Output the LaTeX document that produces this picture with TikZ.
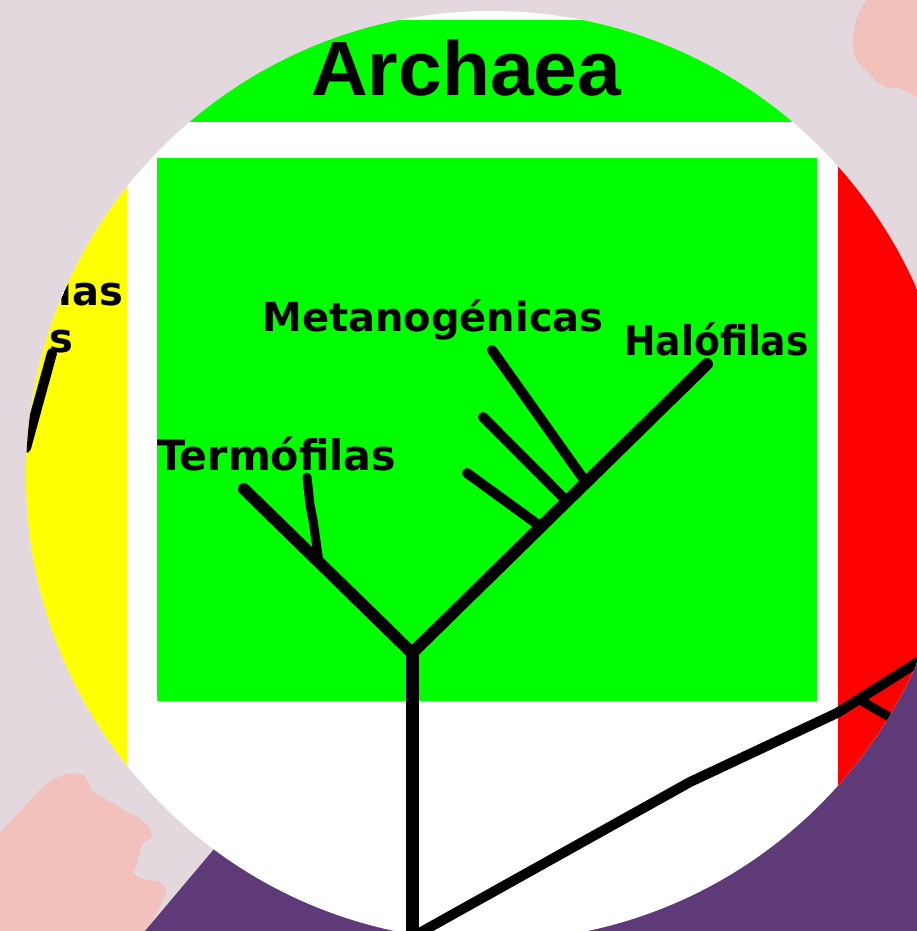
\documentclass[tikz,border=0pt]{standalone}
\usepackage{fontspec}
\setmainfont{Liberation Sans}
\newfontfamily\etiq{DejaVu Sans}
\usetikzlibrary{calc}
\definecolor{fondo}{HTML}{E3D8DD}
\definecolor{morado}{HTML}{5E3A78}
\definecolor{rosa}{HTML}{F2C1BB}
\definecolor{verde}{HTML}{00FF00}
\definecolor{amarillo}{HTML}{FFFF00}
\definecolor{rojo}{HTML}{FF0000}

\begin{document}
\begin{tikzpicture}[x=1pt, y=-1pt,
    rama/.style={black, line width=#1, line cap=round, line join=round},
    rama/.default=12pt,
    etiqueta/.style={font=\etiq\fontsize{#1}{#1}\selectfont\bfseries, inner sep=0pt, anchor=base west}]
\fill[fondo] (0,0) rectangle (917,931);
\useasboundingbox (0,0) rectangle (917,931);

\fill[rosa] (867,0) .. controls (858,8) and (852,30) .. (853,47) .. controls (854,58) and (858,63) .. (863,67)
    -- (877,82) -- (887,88) -- (900,88) -- (907,92) -- (917,97) -- (917,0) -- cycle;
\fill[rosa] (0,833) -- (33,797) .. controls (45,783) and (60,773) .. (75,773) -- (85,776) -- (93,792)
    -- (113,803) -- (127,812) -- (140,818) -- (150,828) -- (152,837) -- (143,843) -- (140,850)
    -- (137,863) -- (133,873) -- (140,878) -- (160,882) -- (165,887) -- (167,893) -- (147,931)
    -- (0,931) -- cycle;
\fill[morado] (145,931) -- (300,747) -- (917,560) -- (917,931) -- cycle;

\fill[white] (491,476) circle (465pt);
\begin{scope}
    \clip (491,476) circle (465pt);
    \fill[verde] (0,20) rectangle (917,122);
    \fill[amarillo] (0,158) rectangle (127,931);
    \fill[verde] (157,158) rectangle (817,701);
    \fill[rojo] (838,163) rectangle (917,931);

    \node[font=\fontsize{77}{77}\selectfont\bfseries, inner sep=0pt, anchor=base west, xscale=1.02] (archaea) at (311,96) {Archaea};
    \node[etiqueta=40] (metano) at (262,331) {Metanogénicas};
    \node[etiqueta=41, xscale=0.92] (halo) at (624,355) {Halófilas};
    \node[etiqueta=42, xscale=0.98] (termo) at (157,470) {Termófilas};
    \node[etiqueta=40, anchor=base east] (bact1) at (123,305) {ias};
    \node[etiqueta=40, anchor=base east] (bact2) at (74,352) {s};

    \coordinate (base) at (412,945);
    \coordinate (fork) at (412,653);
    \coordinate (termoend) at (244,489);
    \coordinate (haloend) at (707,364);
    \coordinate (t1) at ($(fork)!0.554!(termoend)$);
    \coordinate (m1) at ($(fork)!0.59!(haloend)$);
    \coordinate (m2) at ($(fork)!0.525!(haloend)$);
    \coordinate (m3) at ($(fork)!0.437!(haloend)$);

    \draw[rama=13pt] (base) -- (fork);
    \draw[rama] (termoend) -- (fork) -- (haloend);
    \draw[rama=9pt] (307,477) -- (310,505) -- (313,520) -- (t1);
    \draw[rama=10pt] (492,350) -- (m1);
    \draw[rama=10pt] (483,417) -- (m2);
    \draw[rama=10pt] (467,473) -- (m3);

    \draw[rama=10pt] (414,936) -- (690,782) -- (837,713) -- (945,645);
    \draw[rama=9pt] (860,700) -- (912,730);
    \draw[rama=10pt] (52,353) -- (26,448);
\end{scope}
\end{tikzpicture}
\end{document}
